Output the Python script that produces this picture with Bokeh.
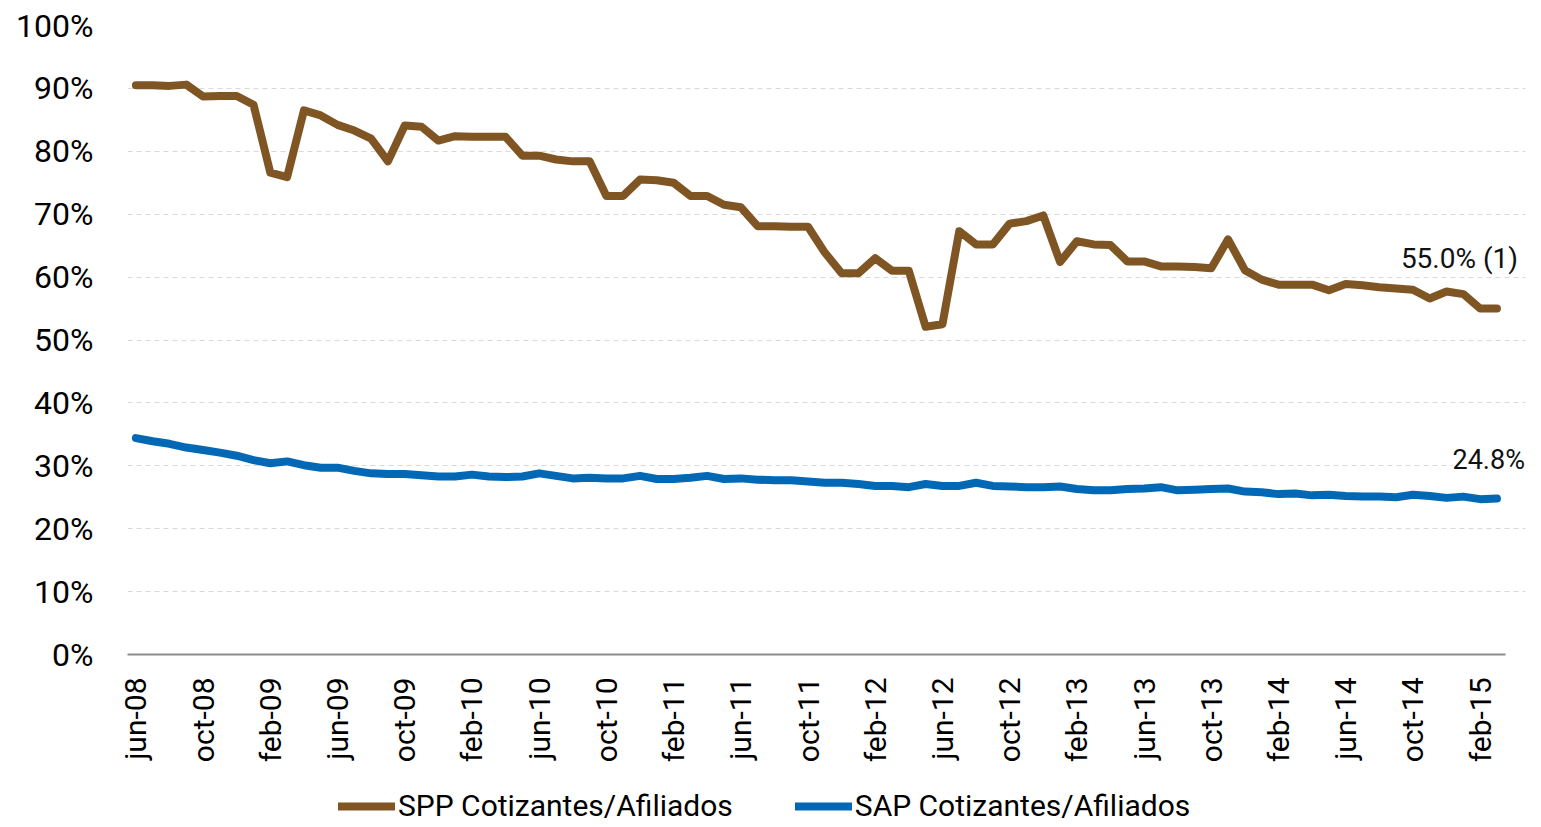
import math
from bokeh.plotting import figure
from bokeh.layouts import column
from bokeh.models import Range1d, Legend, LegendItem, Label, FixedTicker
from bokeh.embed import file_html
from bokeh.resources import INLINE

# ---- data -------------------------------------------------------------
MONTH_ABBR = ["ene", "feb", "mar", "abr", "may", "jun",
              "jul", "ago", "sep", "oct", "nov", "dic"]
months = []
yr, mo = 2008, 5
while (yr, mo) <= (2015, 2):
    months.append(f"{MONTH_ABBR[mo]}-{yr % 100:02d}")
    mo += 1
    if mo == 12:
        mo, yr = 0, yr + 1

spp = [90.5, 90.5, 90.4, 90.6, 88.7, 88.8, 88.8, 87.4, 76.6, 75.9,
       86.5, 85.7, 84.2, 83.3, 82.0, 78.4, 84.1, 83.9, 81.7, 82.4,
       82.3, 82.3, 82.3, 79.3, 79.3, 78.7, 78.4, 78.4, 72.9, 72.9,
       75.5, 75.4, 75.0, 72.9, 72.9, 71.5, 71.1, 68.1, 68.1, 68.0,
       68.0, 63.9, 60.6, 60.6, 63.0, 61.0, 61.0, 52.1, 52.5, 67.3,
       65.2, 65.2, 68.5, 68.9, 69.8, 62.4, 65.7, 65.2, 65.1, 62.5,
       62.5, 61.7, 61.7, 61.6, 61.4, 66.0, 61.1, 59.6, 58.8, 58.8,
       58.8, 57.9, 58.9, 58.7, 58.4, 58.2, 58.0, 56.6, 57.7, 57.3,
       55.0, 55.0]

sap = [34.4, 33.9, 33.5, 32.9, 32.5, 32.1, 31.6, 30.9, 30.4, 30.7,
       30.1, 29.7, 29.7, 29.2, 28.8, 28.7, 28.7, 28.5, 28.3, 28.3,
       28.6, 28.3, 28.2, 28.3, 28.8, 28.4, 28.0, 28.1, 28.0, 28.0,
       28.4, 27.9, 27.9, 28.1, 28.4, 27.9, 28.0, 27.8, 27.7, 27.7,
       27.5, 27.3, 27.3, 27.1, 26.8, 26.8, 26.6, 27.1, 26.8, 26.8,
       27.3, 26.8, 26.7, 26.6, 26.6, 26.7, 26.3, 26.1, 26.1, 26.3,
       26.4, 26.6, 26.1, 26.2, 26.3, 26.4, 25.9, 25.8, 25.5, 25.6,
       25.3, 25.4, 25.2, 25.1, 25.1, 25.0, 25.4, 25.2, 24.9, 25.1,
       24.7, 24.8]

y_ticks = list(range(0, 101, 10))
y_tick_labels = [f"{t}%" for t in y_ticks]
series_names = ["SPP Cotizantes/Afiliados", "SAP Cotizantes/Afiliados"]
end_labels = ["55.0%  (1)", "24.8%"]

# ---- styling ---------------------------------------------------------
FONT = "Roboto"
BROWN = "#805524"
BLUE = "#0068b4"
LW = 8

xs = list(range(len(months)))
n = len(months)

p = figure(frame_width=1398, frame_height=629,
           x_range=Range1d(-0.5, n - 0.5 + 1.2),
           y_range=Range1d(0, 100),
           output_backend="svg", toolbar_location=None,
           min_border_left=127, min_border_right=14,
           min_border_top=25, min_border_bottom=130)
p.outline_line_color = None
p.background_fill_color = "white"
p.border_fill_color = "white"

p.line(xs, spp, line_color=BROWN, line_width=LW,
       line_cap="round", line_join="round")
p.line(xs, sap, line_color=BLUE, line_width=LW,
       line_cap="round", line_join="round")

# axes
xa = p.xaxis[0]
xa.ticker = FixedTicker(ticks=xs[::4])
xa.major_label_overrides = {i: months[i] for i in xs[::4]}
xa.bounds = (-0.5, n - 0.5)
xa.major_label_orientation = math.pi / 2
xa.major_label_text_font = FONT
xa.major_label_text_font_size = "30px"
xa.major_label_text_color = "black"
xa.major_label_standoff = 23
xa.major_tick_line_color = None
xa.major_tick_out = 0
xa.major_tick_in = 0
xa.minor_tick_line_color = None
xa.axis_line_color = "#8c8c8c"
xa.axis_line_width = 2

ya = p.yaxis[0]
ya.ticker = FixedTicker(ticks=y_ticks)
ya.major_label_overrides = dict(zip(y_ticks, y_tick_labels))
ya.major_label_text_font = FONT
ya.major_label_text_font_size = "32px"
ya.major_label_text_color = "black"
ya.major_label_standoff = 34
ya.axis_line_color = None
ya.major_tick_line_color = None
ya.minor_tick_line_color = None
ya.major_tick_out = 0
ya.major_tick_in = 0

p.xgrid.grid_line_color = None
p.ygrid.grid_line_color = "#d9d9d9"
p.ygrid.grid_line_dash = "5 4"
p.ygrid.grid_line_width = 1

# end labels, anchored at the last data point
p.add_layout(Label(x=xs[-1], y=spp[-1], text=end_labels[0],
                   x_offset=28, y_offset=50, text_align="right",
                   text_baseline="middle", text_font=FONT,
                   text_font_size="28px", text_color="#111111",
                   background_fill_color="white"))
p.add_layout(Label(x=xs[-1], y=sap[-1], text=end_labels[1],
                   x_offset=28, y_offset=39, text_align="right",
                   text_baseline="middle", text_font=FONT,
                   text_font_size="27px", text_color="#111111",
                   background_fill_color="white"))

# ---- legend strip below the chart ------------------------------------
# The strip's ranges lie outside the data, so its lines are clipped away
# and only serve as legend glyph sources.
pl = figure(width=1541, height=43, x_range=Range1d(0, 1), y_range=Range1d(0, 1),
            output_backend="svg", toolbar_location=None, min_border=0)
pl.axis.visible = False
pl.grid.grid_line_color = None
pl.outline_line_color = None
l1 = pl.line(xs, spp, line_color=BROWN, line_width=LW, line_cap="round")
l2 = pl.line(xs, sap, line_color=BLUE, line_width=LW, line_cap="round")
legend = Legend(items=[LegendItem(label=series_names[0], renderers=[l1]),
                       LegendItem(label=series_names[1], renderers=[l2])],
                orientation="horizontal", location=(211, 4),
                label_text_font=FONT, label_text_font_size="30px",
                label_text_color="black", glyph_width=57, glyph_height=30,
                label_height=30, label_standoff=3, spacing=62,
                padding=0, margin=0,
                border_line_color=None, background_fill_alpha=0)
pl.add_layout(legend)

layout = column(p, pl, spacing=0)
open("out.html", "w").write(file_html(layout, INLINE))
